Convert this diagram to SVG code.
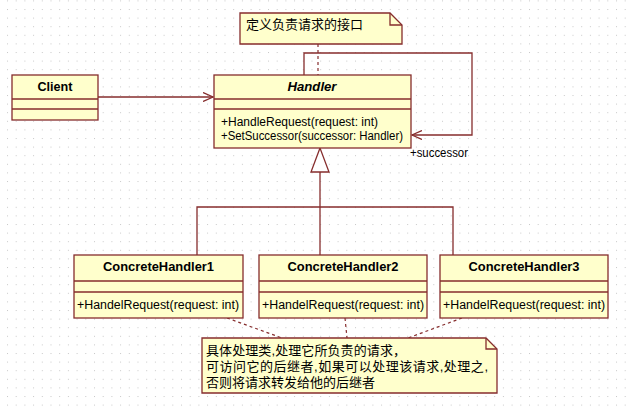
<svg xmlns="http://www.w3.org/2000/svg" width="628" height="409" viewBox="0 0 628 409">
<style>
.box{fill:#ffffcc;stroke:#862d2d;stroke-width:1.3}
.ln{fill:none;stroke:#862d2d;stroke-width:1.3}
.dash{fill:none;stroke:#862d2d;stroke-width:1.2;stroke-dasharray:3,3}
.t{font-family:"Liberation Sans",Arial,sans-serif;font-size:12px;fill:#000}
.b{font-weight:bold;text-anchor:middle}
.cjk{font-family:"Liberation Sans","Noto Sans CJK SC",sans-serif;font-size:13px;fill:#000}
</style>
<defs>
<pattern id="grid" patternUnits="userSpaceOnUse" x="7" y="9" width="8.7" height="8.6">
<rect x="0" y="0" width="1" height="1" fill="#c8c8c8"/>
</pattern>
<marker id="open" markerWidth="12" markerHeight="10" refX="10" refY="5" orient="auto" markerUnits="userSpaceOnUse">
<path d="M0,0.5 L10,5 L0,9.5" fill="none" stroke="#862d2d" stroke-width="1.3"/>
</marker>
</defs>
<rect width="628" height="409" fill="#ffffff"/>
<rect width="628" height="409" fill="url(#grid)"/>

<g id="connectors">
<line class="ln" x1="98" y1="97" x2="213" y2="97" marker-end="url(#open)"/>
<polyline class="ln" points="304,75 304,53 472,53 472,135 412,135" marker-end="url(#open)"/>
<text class="t" x="410" y="157" font-size="11px" textLength="58" lengthAdjust="spacingAndGlyphs">+successor</text>
<polygon points="320,148 311,172 329,172" fill="#ffffff" stroke="#862d2d" stroke-width="1.3"/>
<polyline class="ln" points="320,172 320,255"/>
<polyline class="ln" points="197,255 197,207 453,207 453,255"/>
<line class="dash" x1="318" y1="44" x2="318" y2="75"/>
<line class="dash" x1="227" y1="318" x2="282" y2="338"/>
<line class="dash" x1="345" y1="318" x2="347" y2="338"/>
<line class="dash" x1="462" y1="318" x2="408" y2="338"/>
</g>

<g id="note1">
<path class="box" d="M240,13 H390 L402,25 V44 H240 Z"/>
<path class="ln" d="M390,13 V25 H402"/>
<text class="cjk" x="246" y="29">定义负责请求的接口</text>
</g>

<g id="client">
<rect class="box" x="12" y="75" width="86" height="45"/>
<line class="ln" x1="12" y1="99" x2="98" y2="99"/>
<line class="ln" x1="12" y1="109" x2="98" y2="109"/>
<text class="t b" x="55" y="91" textLength="35" lengthAdjust="spacingAndGlyphs">Client</text>
</g>

<g id="handler">
<rect class="box" x="214" y="75" width="197" height="73"/>
<line class="ln" x1="214" y1="99" x2="411" y2="99"/>
<line class="ln" x1="214" y1="109" x2="411" y2="109"/>
<text class="t b" x="312" y="91" font-style="italic" textLength="49" lengthAdjust="spacingAndGlyphs">Handler</text>
<text class="t" x="221" y="126" textLength="157" lengthAdjust="spacingAndGlyphs">+HandleRequest(request: int)</text>
<text class="t" x="221" y="140" textLength="182" lengthAdjust="spacingAndGlyphs">+SetSuccessor(successor: Handler)</text>
</g>

<g id="ch1">
<rect class="box" x="74" y="255" width="169" height="63"/>
<line class="ln" x1="74" y1="281" x2="243" y2="281"/>
<line class="ln" x1="74" y1="292" x2="243" y2="292"/>
<text class="t b" x="158.5" y="271" textLength="111" lengthAdjust="spacingAndGlyphs">ConcreteHandler1</text>
<text class="t" x="77" y="309" textLength="162" lengthAdjust="spacingAndGlyphs">+HandelRequest(request: int)</text>
</g>

<g id="ch2">
<rect class="box" x="259" y="255" width="168" height="63"/>
<line class="ln" x1="259" y1="281" x2="427" y2="281"/>
<line class="ln" x1="259" y1="292" x2="427" y2="292"/>
<text class="t b" x="343" y="271" textLength="111" lengthAdjust="spacingAndGlyphs">ConcreteHandler2</text>
<text class="t" x="262" y="309" textLength="162" lengthAdjust="spacingAndGlyphs">+HandelRequest(request: int)</text>
</g>

<g id="ch3">
<rect class="box" x="440" y="255" width="168" height="63"/>
<line class="ln" x1="440" y1="281" x2="608" y2="281"/>
<line class="ln" x1="440" y1="292" x2="608" y2="292"/>
<text class="t b" x="524" y="271" textLength="111" lengthAdjust="spacingAndGlyphs">ConcreteHandler3</text>
<text class="t" x="443" y="309" textLength="162" lengthAdjust="spacingAndGlyphs">+HandelRequest(request: int)</text>
</g>

<g id="note2">
<path class="box" d="M202,338 H486 L497,349 V393 H202 Z"/>
<path class="ln" d="M486,338 V349 H497"/>
<text class="cjk" x="206" y="355" textLength="200" lengthAdjust="spacing">具体处理类,处理它所负责的请求，</text>
<text class="cjk" x="206" y="371" textLength="282" lengthAdjust="spacing">可访问它的后继者,如果可以处理该请求,处理之,</text>
<text class="cjk" x="206" y="387">否则将请求转发给他的后继者</text>
</g>
</svg>
